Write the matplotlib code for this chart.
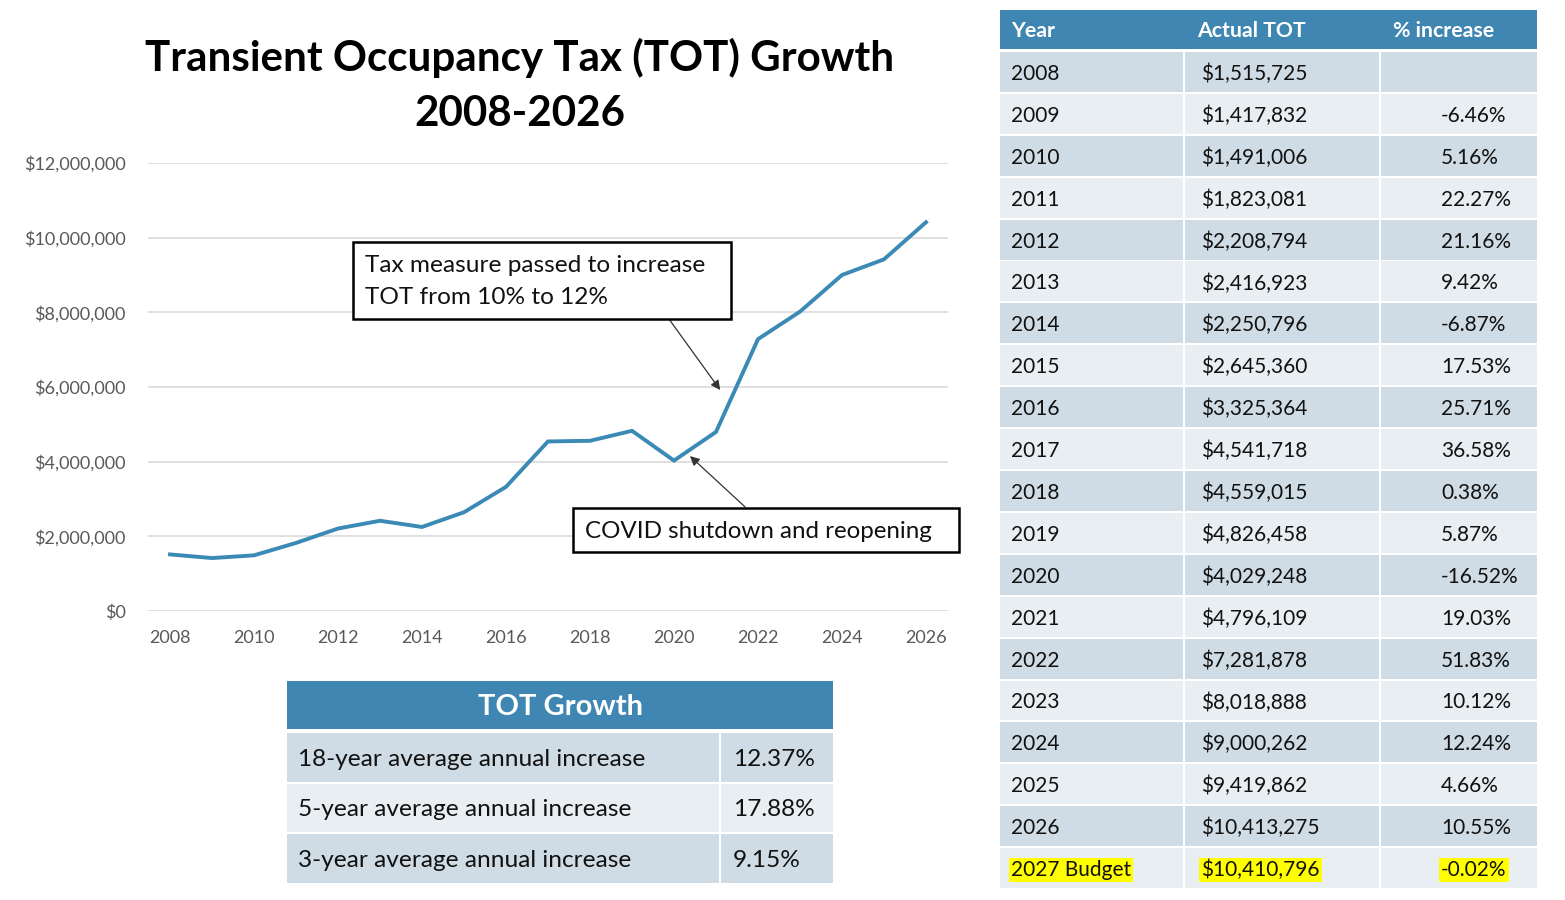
import matplotlib
matplotlib.use("Agg")
import matplotlib.pyplot as plt
from matplotlib.patches import Rectangle
from matplotlib.ticker import FuncFormatter

plt.rcParams['font.family'] = ['Lato', 'DejaVu Sans']

W, H = 1565, 900

years = list(range(2008, 2027))
tot = [1515725, 1417832, 1491006, 1823081, 2208794, 2416923, 2250796, 2645360,
       3325364, 4541718, 4559015, 4826458, 4029248, 4796109, 7281878, 8018888,
       9000262, 9419862, 10413275]

table_years = [str(y) for y in years] + ['2027 Budget']
table_tot = ['$1,515,725', '$1,417,832', '$1,491,006', '$1,823,081', '$2,208,794',
             '$2,416,923', '$2,250,796', '$2,645,360', '$3,325,364', '$4,541,718',
             '$4,559,015', '$4,826,458', '$4,029,248', '$4,796,109', '$7,281,878',
             '$8,018,888', '$9,000,262', '$9,419,862', '$10,413,275', '$10,410,796']
table_pct = ['', '-6.46%', '5.16%', '22.27%', '21.16%', '9.42%', '-6.87%', '17.53%',
             '25.71%', '36.58%', '0.38%', '5.87%', '-16.52%', '19.03%', '51.83%',
             '10.12%', '12.24%', '4.66%', '10.55%', '-0.02%']
table_header = ['Year', 'Actual TOT', '% increase']

growth_labels = ['18-year average annual increase', '5-year average annual increase',
                 '3-year average annual increase']
growth_values = ['12.37%', '17.88%', '9.15%']

HEAD = '#3f87b2'
DARK = '#cfdce5'
LIGHT = '#e8eef2'
LINE = '#3b8ab5'


def fx(x):
    return x / W


def fy(y):
    return 1 - y / H


def box(fig, x0, y0, x1, y1, fc, ec='none', lw=0):
    fig.add_artist(Rectangle((fx(x0), fy(y1)), fx(x1) - fx(x0), fy(y0) - fy(y1),
                             transform=fig.transFigure, facecolor=fc,
                             edgecolor=ec, linewidth=lw))


fig = plt.figure(figsize=(W / 100, H / 100), dpi=100)

# line chart
ax = fig.add_axes([fx(148), fy(611), fx(948) - fx(148), fy(163) - fy(611)])
ax.plot(years, tot, color=LINE, lw=2.8, solid_joinstyle='miter')
ax.set_xlim(2008 - 22 / 42, 2026 + 22 / 42)
ax.set_ylim(0, 12e6)
ax.set_xticks(range(2008, 2027, 2))
ax.set_yticks(range(0, 12000001, 2000000))
ax.yaxis.set_major_formatter(FuncFormatter(lambda v, p: '${:,.0f}'.format(v)))
ax.grid(axis='y', color='#d9d9d9', lw=1.2)
ax.set_axisbelow(True)
for s in ax.spines.values():
    s.set_visible(False)
ax.tick_params(length=0, labelsize=13, labelcolor='#595959')
ax.tick_params(axis='x', pad=14)
ax.tick_params(axis='y', pad=16)

# arrows from the callout boxes to the line
ax.annotate('', xy=(2021.1, 5.92e6), xytext=(2019.9, 7.79e6),
            arrowprops=dict(arrowstyle='-|>', color='#333333', lw=0.9,
                            mutation_scale=14, shrinkA=0, shrinkB=0))
ax.annotate('', xy=(2020.38, 4.15e6), xytext=(2021.69, 2.79e6),
            arrowprops=dict(arrowstyle='-|>', color='#333333', lw=0.9,
                            mutation_scale=14, shrinkA=0, shrinkB=0))

box(fig, 353, 242, 731, 319, 'white', 'black', 1.8)
fig.text(fx(365), fy(266), 'Tax measure passed to increase', fontsize=17.6,
         va='center', ha='left', color='#111111')
fig.text(fx(365), fy(298), 'TOT from 10% to 12%', fontsize=17.6,
         va='center', ha='left', color='#111111')
box(fig, 573, 508, 959, 552, 'white', 'black', 1.8)
fig.text(fx(585), fy(532), 'COVID shutdown and reopening', fontsize=17.4,
         va='center', ha='left', color='#111111')

fig.text(fx(520), fy(58), 'Transient Occupancy Tax (TOT) Growth', fontsize=30.3,
         fontweight='bold', ha='center', va='center')
fig.text(fx(520), fy(114), '2008-2026', fontsize=30.3, fontweight='bold',
         ha='center', va='center')

# right table
cols = [(1000, 1183), (1185, 1379), (1381, 1537)]
head_x = [1011, 1197, 1393]
text_x = [1011, 1201, 1441]
box(fig, cols[0][0], 10, cols[-1][1], 49, HEAD)
for tx, lab in zip(head_x, table_header):
    fig.text(fx(tx), fy(31), lab, fontsize=15.3, fontweight='bold', color='white',
             va='center', ha='left')
row_top = 52
row_h = 41.9
for i in range(len(table_years)):
    y0 = row_top + i * row_h
    y1 = y0 + row_h - 2
    yc = (y0 + y1) / 2 + 2
    fc = DARK if i % 2 == 0 else LIGHT
    for c0, c1 in cols:
        box(fig, c0, y0, c1, y1, fc)
    hl = table_years[i].endswith('Budget')
    bb = dict(facecolor='#ffff00', edgecolor='none', pad=1.5) if hl else None
    for tx, val in zip(text_x, [table_years[i], table_tot[i], table_pct[i]]):
        if val:
            fig.text(fx(tx), fy(yc), val, fontsize=15, color='#111111',
                     va='center', ha='left', bbox=bb)

# growth table
box(fig, 287, 681, 833, 729, HEAD)
fig.text(fx(560), fy(707), 'TOT Growth', fontsize=21, fontweight='bold',
         color='white', ha='center', va='center')
for i, (lab, val) in enumerate(zip(growth_labels, growth_values)):
    y0 = 733 + i * 50.5
    y1 = y0 + 48.5
    yc = (y0 + y1) / 2 + 2
    fc = DARK if i % 2 == 0 else LIGHT
    box(fig, 287, y0, 719, y1, fc)
    box(fig, 721, y0, 833, y1, fc)
    fig.text(fx(298), fy(yc), lab, fontsize=17.6, color='#111111', va='center', ha='left')
    fig.text(fx(733), fy(yc), val, fontsize=17.6, color='#111111', va='center', ha='left')

fig.savefig('out.png', dpi=100, facecolor='white')
